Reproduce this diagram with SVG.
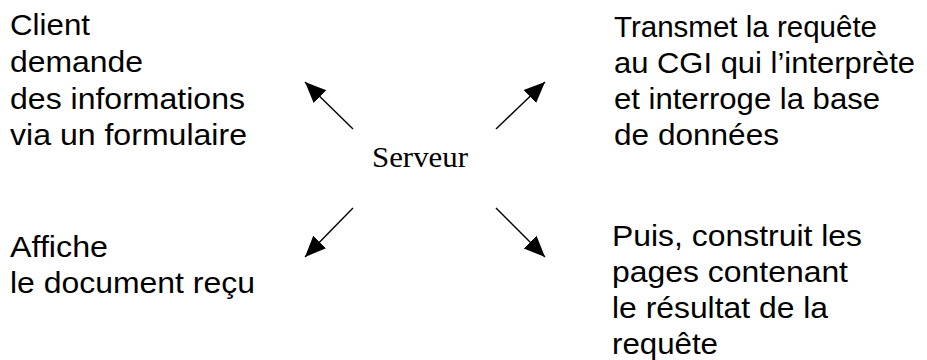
<svg xmlns="http://www.w3.org/2000/svg" width="927" height="360" viewBox="0 0 927 360">
  <style>
    .s { font-family: "Liberation Sans", Arial, sans-serif; font-size: 30px; fill: #000; }
    .t { font-family: "Liberation Serif", "Times New Roman", serif; font-size: 30px; fill: #000; }
    .c { stroke: #000; stroke-width: 1.4; fill: none; marker-end: url(#ah); }
  </style>
  <defs>
    <marker id="ah" markerUnits="userSpaceOnUse" markerWidth="22" markerHeight="20" viewBox="0 -10 22 20" refX="21" refY="0" orient="auto">
      <path d="M0,-9 L21,0 L0,9 z" fill="#000"/>
    </marker>
  </defs>
  <rect width="927" height="360" fill="#fff"/>
  <g id="client">
    <text class="s" x="10" y="35" textLength="80" lengthAdjust="spacingAndGlyphs">Client</text>
    <text class="s" x="10" y="72" textLength="133" lengthAdjust="spacingAndGlyphs">demande</text>
    <text class="s" x="10" y="109" textLength="235" lengthAdjust="spacingAndGlyphs">des informations</text>
    <text class="s" x="10" y="145" textLength="237" lengthAdjust="spacingAndGlyphs">via un formulaire</text>
  </g>
  <g id="transmet">
    <text class="s" x="614" y="37" textLength="263" lengthAdjust="spacingAndGlyphs">Transmet la requête</text>
    <text class="s" x="614" y="73" textLength="301" lengthAdjust="spacingAndGlyphs">au CGI qui l’interprète</text>
    <text class="s" x="614" y="109" textLength="266" lengthAdjust="spacingAndGlyphs">et interroge la base</text>
    <text class="s" x="614" y="145" textLength="165" lengthAdjust="spacingAndGlyphs">de données</text>
  </g>
  <g id="serveur">
    <text class="t" x="372" y="167" textLength="96" lengthAdjust="spacingAndGlyphs">Serveur</text>
  </g>
  <g id="affiche">
    <text class="s" x="10" y="257" textLength="98" lengthAdjust="spacingAndGlyphs">Affiche</text>
    <text class="s" x="10" y="293" textLength="245" lengthAdjust="spacingAndGlyphs">le document reçu</text>
  </g>
  <g id="construit">
    <text class="s" x="612" y="246" textLength="250" lengthAdjust="spacingAndGlyphs">Puis, construit les</text>
    <text class="s" x="612" y="282" textLength="236" lengthAdjust="spacingAndGlyphs">pages contenant</text>
    <text class="s" x="612" y="318" textLength="216" lengthAdjust="spacingAndGlyphs">le résultat de la</text>
    <text class="s" x="612" y="354" textLength="106" lengthAdjust="spacingAndGlyphs">requête</text>
  </g>
  <g id="connectors">
    <line class="c" x1="353" y1="129" x2="305" y2="82"/>
    <line class="c" x1="496" y1="129" x2="545" y2="82"/>
    <line class="c" x1="353" y1="208" x2="305" y2="257"/>
    <line class="c" x1="496" y1="208" x2="545" y2="257"/>
  </g>
</svg>
